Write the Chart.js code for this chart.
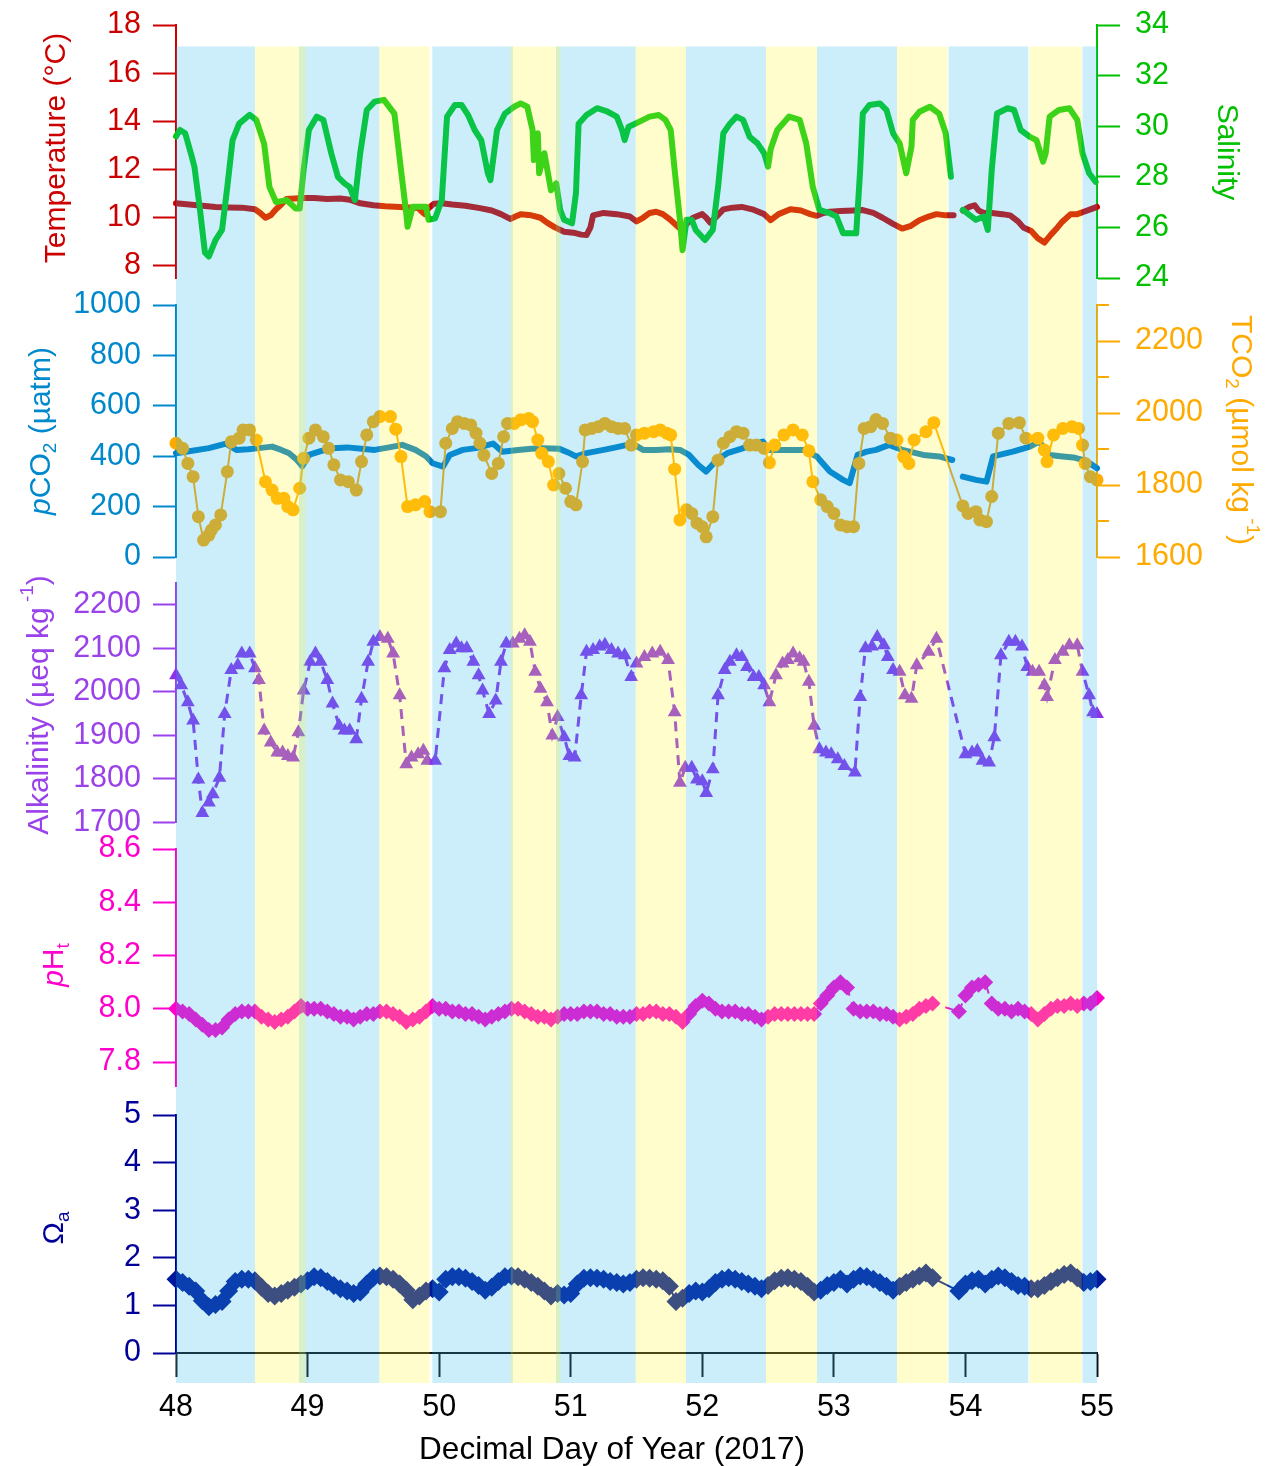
<!DOCTYPE html>
<html>
<head>
<meta charset="utf-8">
<title>Carbonate chemistry, days 48–55 (2017)</title>
<script src="https://cdn.jsdelivr.net/npm/chart.js@4.4.1/dist/chart.umd.min.js"></script>
<style>
  html, body { margin: 0; padding: 0; background: #fff; }
  #wrap { position: relative; width: 1273px; height: 1466px; overflow: hidden; }
  #wrap canvas { position: absolute; left: 0; top: 0; }
  #wrap #cTemp { top: -40px; }
</style>
</head>
<body>
<div id="wrap">
  <canvas id="cTemp" width="1273" height="400"></canvas>
  <canvas id="cCO2" width="1273" height="1466"></canvas>
  <canvas id="cAlk" width="1273" height="1466"></canvas>
  <canvas id="cPH" width="1273" height="1466"></canvas>
  <canvas id="cOmega" width="1273" height="1466"></canvas>
  <canvas id="cShade" width="1273" height="1466"></canvas>
</div>
<script>
// ---------- data ----------
// light / dark periods (decimal day)
const darkPeriods  = [[48.00,48.60],[48.935,49.545],[49.948,50.56],[50.888,51.494],[51.876,52.484],[52.872,53.48],[53.872,54.478],[54.89,55.00]];
const lightPeriods = [[48.60,48.985],[49.545,49.928],[50.544,50.923],[51.494,51.876],[52.484,52.872],[53.48,53.865],[54.486,54.884]];

// temperature (°C)
const tempDay = [48.00,48.10,48.20,48.30,48.40,48.50,48.60,48.64,48.68,48.72,48.76,48.80,48.84,48.90,48.97,49.05,49.15,49.25,49.32,49.40,49.50,49.59,49.70,49.80,49.84,49.87,49.89,49.92,49.96,50.02,50.10,50.20,50.31,50.40,50.47,50.54,50.58,50.62,50.70,50.77,50.82,50.88,50.95,51.02,51.08,51.12,51.15,51.17,51.25,51.35,51.45,51.50,51.55,51.60,51.65,51.70,51.75,51.78,51.82,51.85,51.89,51.93,52.00,52.03,52.06,52.10,52.16,52.23,52.30,52.38,52.47,52.52,52.58,52.67,52.75,52.82,52.87,52.92,52.97,53.05,53.15,53.22,53.30,53.37,53.45,53.52,53.58,53.65,53.72,53.78,53.85,53.91,53.94,53.98,54.03,54.07,54.10,54.14,54.20,54.28,54.34,54.40,54.44,54.50,54.55,54.60,54.65,54.70,54.73,54.80,54.85,54.90,54.95,55.00];
const tempVal = [10.6,10.55,10.5,10.45,10.43,10.42,10.35,10.2,10.0,10.1,10.35,10.55,10.78,10.8,10.82,10.82,10.78,10.8,10.75,10.6,10.52,10.48,10.45,10.42,10.4,10.25,10.15,10.4,10.58,10.6,10.55,10.5,10.4,10.3,10.15,9.95,10.05,10.15,10.1,10.0,9.8,9.6,9.42,9.38,9.3,9.28,9.6,10.1,10.2,10.15,10.05,9.85,10.0,10.2,10.25,10.15,9.95,9.8,9.6,9.5,9.8,10.0,10.15,10.0,9.8,10.0,10.35,10.42,10.45,10.35,10.15,9.9,10.15,10.35,10.3,10.15,10.08,10.2,10.25,10.28,10.3,10.32,10.2,10.0,9.75,9.55,9.65,9.9,10.05,10.15,10.1,10.1,null,10.3,10.45,10.52,10.3,10.2,10.2,10.15,10.1,9.85,9.6,9.45,9.15,8.97,9.3,9.6,9.8,10.15,10.15,10.25,10.35,10.45];

// salinity
const salDay = [48.00,48.03,48.07,48.12,48.14,48.18,48.22,48.25,48.30,48.35,48.39,48.43,48.48,48.56,48.61,48.67,48.71,48.76,48.84,48.91,48.94,48.97,49.01,49.07,49.12,49.18,49.23,49.28,49.32,49.36,49.40,49.45,49.51,49.58,49.66,49.71,49.75,49.76,49.80,49.90,49.92,49.97,50.02,50.06,50.12,50.17,50.22,50.27,50.32,50.37,50.39,50.44,50.50,50.57,50.62,50.67,50.71,50.72,50.75,50.76,50.80,50.85,50.89,50.92,50.95,51.01,51.04,51.06,51.12,51.20,51.27,51.35,51.39,51.41,51.44,51.49,51.55,51.60,51.67,51.72,51.76,51.79,51.83,51.85,51.88,51.92,51.95,52.02,52.08,52.12,52.16,52.21,52.26,52.31,52.36,52.42,52.47,52.50,52.52,52.57,52.66,52.74,52.79,52.84,52.89,52.97,53.02,53.07,53.17,53.20,53.22,53.27,53.35,53.40,53.45,53.50,53.55,53.59,53.60,53.65,53.73,53.80,53.85,53.89,53.94,53.98,54.08,54.14,54.17,54.20,54.24,54.32,54.37,54.42,54.49,54.54,54.59,54.61,54.64,54.71,54.79,54.85,54.89,54.94,54.99];
const salVal = [29.6,29.85,29.72,28.8,28.4,26.8,25.0,24.85,25.5,25.9,27.6,29.45,30.1,30.45,30.25,29.3,27.6,27.0,27.08,26.75,26.75,28.27,29.85,30.38,30.25,28.93,28.0,27.74,27.6,27.08,28.93,30.64,30.97,31.04,30.5,28.27,26.56,26.03,26.82,26.82,26.3,26.36,27.08,30.38,30.84,30.84,30.44,29.85,29.45,28.14,27.87,29.85,30.5,30.77,30.9,30.77,29.85,28.66,29.72,28.14,28.93,27.47,27.74,26.69,26.3,26.16,27.36,30.1,30.44,30.71,30.6,30.38,29.85,29.45,29.98,30.1,30.25,30.38,30.44,30.25,29.85,28.27,26.3,25.1,26.3,26.3,25.9,25.5,25.9,27.6,29.72,30.1,30.38,30.25,29.58,29.32,28.93,28.4,29.1,29.85,30.38,30.25,29.32,27.6,26.69,26.56,26.43,25.77,25.77,28.27,30.5,30.84,30.9,30.64,29.72,29.32,28.14,29.19,30.25,30.57,30.77,30.5,29.72,28.0,null,26.69,26.3,26.43,25.9,28.27,30.5,30.71,30.64,29.85,29.58,29.45,28.6,28.93,30.38,30.64,30.71,30.25,28.93,28.14,27.8];

// pCO2 (µatm)
const pco2Day = [48.00,48.10,48.25,48.38,48.46,48.55,48.63,48.73,48.80,48.86,48.92,48.96,49.01,49.10,49.19,49.30,49.41,49.51,49.62,49.72,49.82,49.90,49.95,50.03,50.08,50.18,50.28,50.41,50.48,50.60,50.70,50.79,50.91,50.98,51.04,51.12,51.25,51.37,51.47,51.55,51.65,51.75,51.83,51.90,51.97,52.03,52.11,52.19,52.30,52.41,52.46,52.51,52.65,52.77,52.87,52.97,53.07,53.12,53.18,53.25,53.32,53.42,53.52,53.60,53.68,53.80,53.90,53.94,53.98,54.08,54.16,54.21,54.36,54.49,54.56,54.64,54.74,54.82,54.89,54.95,55.00];
const pco2Val = [412,420,432,450,425,428,432,438,425,412,385,360,405,420,432,435,430,425,435,445,425,400,372,359,405,425,432,450,418,425,430,432,430,415,399,412,425,438,450,425,425,428,425,405,365,339,385,412,430,452,458,425,425,425,399,339,306,293,405,418,425,445,425,415,405,399,385,null,319,306,299,399,418,438,458,405,399,395,385,370,352];

// TCO2 (µmol kg-1)
const tco2Day = [48.00,48.05,48.09,48.13,48.17,48.21,48.25,48.27,48.30,48.34,48.39,48.42,48.48,48.51,48.56,48.61,48.68,48.73,48.77,48.82,48.85,48.89,48.94,48.97,49.01,49.06,49.12,49.16,49.20,49.25,49.31,49.37,49.41,49.45,49.50,49.55,49.63,49.67,49.71,49.76,49.82,49.89,49.93,50.01,50.05,50.10,50.14,50.19,50.24,50.28,50.31,50.34,50.40,50.45,50.49,50.52,50.57,50.62,50.68,50.71,50.75,50.78,50.83,50.87,50.91,50.96,51.00,51.04,51.09,51.11,51.16,51.21,51.26,51.31,51.36,51.41,51.46,51.50,51.56,51.63,51.68,51.73,51.76,51.79,51.83,51.88,51.92,51.96,52.00,52.03,52.08,52.12,52.16,52.21,52.26,52.31,52.36,52.41,52.47,52.51,52.55,52.62,52.69,52.76,52.81,52.84,52.90,52.95,53.00,53.05,53.10,53.15,53.19,53.23,53.28,53.32,53.37,53.43,53.48,53.53,53.57,53.61,53.70,53.76,53.98,54.02,54.08,54.11,54.16,54.20,54.25,54.33,54.41,54.46,54.55,54.60,54.62,54.67,54.74,54.81,54.86,54.89,54.91,54.95,55.00];
const tco2Val = [1916,1902,1860,1823,1712,1647,1661,1675,1689,1717,1837,1920,1930,1953,1953,1925,1809,1786,1763,1763,1740,1731,1791,1874,1930,1953,1934,1902,1856,1814,1809,1786,1865,1939,1976,1990,1990,1955,1879,1740,1745,1754,1726,1726,1916,1957,1976,1971,1967,1944,1916,1883,1832,1860,1934,1971,1971,1981,1985,1976,1925,1888,1865,1800,1832,1791,1754,1745,1865,1953,1957,1962,1971,1962,1957,1957,1911,1939,1944,1948,1953,1944,1939,1844,1703,1731,1721,1694,1684,1656,1712,1869,1916,1934,1948,1944,1911,1911,1902,1862,1911,1939,1953,1939,1895,1809,1759,1740,1721,1689,1684,1684,1860,1957,1962,1982,1971,1930,1925,1879,1860,1925,1948,1973,1742,1721,1726,1703,1698,1768,1944,1971,1973,1930,1930,1897,1865,1939,1957,1962,1957,1911,1860,1823,1814];

// total alkalinity (µeq kg-1)
const alkDay = [48.00,48.04,48.09,48.13,48.17,48.20,48.25,48.28,48.33,48.37,48.42,48.47,48.50,48.56,48.60,48.63,48.67,48.72,48.77,48.81,48.85,48.89,48.93,48.97,49.02,49.06,49.10,49.15,49.19,49.24,49.28,49.32,49.37,49.41,49.46,49.50,49.55,49.61,49.65,49.70,49.75,49.79,49.84,49.88,49.91,49.97,50.04,50.08,50.13,50.17,50.21,50.26,50.30,50.33,50.38,50.43,50.47,50.51,50.56,50.61,50.65,50.69,50.73,50.77,50.82,50.86,50.90,50.95,50.99,51.03,51.08,51.12,51.17,51.22,51.26,51.31,51.36,51.41,51.46,51.50,51.56,51.62,51.68,51.74,51.79,51.83,51.87,51.92,51.96,52.00,52.03,52.08,52.12,52.17,52.21,52.26,52.30,52.34,52.39,52.43,52.47,52.51,52.56,52.61,52.65,52.69,52.74,52.77,52.81,52.85,52.89,52.94,52.98,53.03,53.08,53.16,53.20,53.24,53.29,53.33,53.38,53.41,53.45,53.50,53.54,53.59,53.63,53.72,53.78,54.00,54.05,54.09,54.13,54.18,54.22,54.27,54.33,54.38,54.43,54.47,54.51,54.56,54.60,54.62,54.68,54.74,54.79,54.85,54.89,54.94,54.97,55.00];
const alkVal = [2038,2015,1976,1934,1799,1722,1746,1765,1803,1949,2050,2061,2088,2088,2054,2027,1911,1884,1861,1861,1853,1849,1907,2003,2069,2088,2069,2027,1973,1922,1911,1911,1891,1984,2069,2115,2126,2122,2088,1992,1834,1849,1857,1865,1842,1842,2054,2096,2111,2100,2100,2069,2038,2003,1949,1980,2069,2111,2111,2122,2130,2115,2046,2007,1976,1900,1942,1896,1853,1849,1992,2092,2096,2104,2108,2096,2088,2084,2034,2065,2080,2088,2092,2073,1953,1791,1826,1826,1799,1795,1768,1822,1992,2050,2069,2084,2080,2057,2034,2034,2015,1976,2038,2065,2073,2088,2077,2069,2023,1922,1868,1861,1857,1845,1830,1815,1988,2100,2104,2126,2107,2080,2050,2046,1992,1984,2061,2092,2122,1857,1861,1865,1842,1838,1896,2084,2115,2115,2104,2057,2046,2046,2015,1988,2073,2092,2107,2107,2046,1992,1953,1949];

// sampling times shared by the pH and aragonite saturation series
const calcDay = [48.00,48.05,48.10,48.15,48.20,48.25,48.30,48.35,48.40,48.45,48.50,48.55,48.60,48.65,48.70,48.75,48.80,48.85,48.90,48.95,
  49.00,49.05,49.10,49.15,49.20,49.25,49.30,49.35,49.40,49.45,49.50,49.55,49.60,49.65,49.70,49.75,49.80,49.85,49.90,49.95,
  50.00,50.05,50.10,50.15,50.20,50.25,50.30,50.35,50.40,50.45,50.50,50.55,50.60,50.65,50.70,50.75,50.80,50.85,50.90,50.95,
  51.00,51.05,51.10,51.15,51.20,51.25,51.30,51.35,51.40,51.45,51.50,51.55,51.60,51.65,51.70,51.75,51.80,51.85,51.90,51.95,
  52.00,52.05,52.10,52.15,52.20,52.25,52.30,52.35,52.40,52.45,52.50,52.55,52.60,52.65,52.70,52.75,52.80,52.85,52.90,52.95,
  53.00,53.05,53.10,53.15,53.20,53.25,53.30,53.35,53.40,53.45,53.50,53.55,53.60,53.65,53.70,53.75,
  53.95,
  54.00,54.05,54.10,54.15,54.20,54.25,54.30,54.35,54.40,54.45,54.50,54.55,54.60,54.65,54.70,54.75,54.80,54.85,54.90,54.95,55.00];

// pH (total scale)
const phVal = [8.00,7.99,7.98,7.96,7.94,7.92,7.92,7.93,7.96,7.98,7.99,7.99,7.99,7.97,7.96,7.95,7.96,7.97,7.99,8.01,
  8.00,8.00,8.00,7.99,7.98,7.97,7.97,7.96,7.97,7.98,7.98,7.99,7.99,7.98,7.97,7.95,7.96,7.97,7.99,8.01,
  8.00,8.00,7.99,7.99,7.98,7.98,7.97,7.96,7.97,7.98,7.99,8.00,8.00,7.99,7.98,7.97,7.97,7.96,7.97,7.98,
  7.98,7.98,7.99,7.99,7.99,7.98,7.98,7.97,7.97,7.97,7.98,7.98,7.99,7.99,7.98,7.98,7.97,7.95,7.98,8.01,
  8.03,8.02,8.00,7.99,7.99,7.99,7.98,7.98,7.97,7.96,7.97,7.98,7.98,7.98,7.98,7.98,7.98,7.98,8.02,8.05,
  8.08,8.10,8.08,8.00,7.99,7.99,7.99,7.98,7.98,7.97,7.96,7.97,7.98,8.00,8.01,8.02,
  7.99,
  8.05,8.08,8.09,8.10,8.02,8.00,8.00,7.99,8.00,7.99,7.98,7.96,7.98,8.00,8.01,8.01,8.02,8.01,8.02,8.02,8.04];

// aragonite saturation state
const omegaVal = [1.55,1.48,1.40,1.30,1.10,0.97,1.02,1.08,1.30,1.50,1.55,1.55,1.52,1.38,1.25,1.20,1.25,1.32,1.38,1.45,
  1.52,1.60,1.58,1.50,1.42,1.35,1.30,1.25,1.28,1.45,1.58,1.62,1.60,1.55,1.45,1.32,1.12,1.20,1.30,1.35,
  1.28,1.55,1.60,1.60,1.57,1.50,1.42,1.32,1.38,1.50,1.60,1.62,1.60,1.55,1.48,1.40,1.30,1.20,1.25,1.22,
  1.25,1.45,1.57,1.58,1.57,1.55,1.50,1.48,1.45,1.48,1.55,1.58,1.57,1.55,1.52,1.40,1.08,1.15,1.25,1.30,
  1.28,1.35,1.48,1.55,1.58,1.55,1.50,1.45,1.40,1.35,1.42,1.52,1.57,1.58,1.55,1.50,1.40,1.28,1.32,1.42,
  1.48,1.55,1.45,1.55,1.62,1.60,1.55,1.48,1.40,1.32,1.40,1.48,1.55,1.62,1.68,1.58,
  1.30,
  1.45,1.52,1.55,1.45,1.55,1.62,1.58,1.50,1.42,1.40,1.35,1.35,1.42,1.50,1.58,1.65,1.68,1.58,1.48,1.50,1.55];

// axis tick positions
const dayTicks = [48, 49, 50, 51, 52, 53, 54, 55];
const tco2MinorTicks = [1700, 1900, 2100, 2300];

// ---------- styling ----------
const W = 1273, H = 1466;
const PLOT_LEFT = 176, PLOT_RIGHT = 1097;
const TOP_SHIFT = 40;            // the top panel's canvas starts above the page edge
const TOP_CANVAS_H = 400;
const FONT = "'Liberation Sans', Arial, Helvetica, sans-serif";
const TICK_SIZE = 30.5;
const TITLE_SIZE = 30;

const C = {
  temp: '#cc0000', sal: '#00c814', salAxis: '#00c000',
  pco2: 'rgb(0,125,200)', pco2Axis: '#0088cc',
  tco2: '#ffaa00', alk: 'rgb(140,50,235)', alkAxis: '#9a42ea',
  ph: '#ff00cc', omega: 'rgb(0,25,155)', omegaAxis: '#000099',
  dark: 'rgba(38,184,234,0.24)', light: 'rgba(255,247,42,0.24)'
};

Chart.defaults.font.family = FONT;

const pts = (xs, ys) => xs.map((x, i) => ({ x, y: ys[i] }));

function hiddenX() {
  return { type: 'linear', min: 48, max: 55, display: false };
}

function yAxis(pos, min, max, step, color, fmt) {
  return {
    type: 'linear', position: pos, min, max,
    afterFit: s => { s.width = pos === 'left' ? PLOT_LEFT : W - PLOT_RIGHT; },
    border: { display: true, color, width: 2 },
    grid: { display: true, drawOnChartArea: false, drawTicks: true, tickLength: 23, tickWidth: 2, tickColor: color },
    ticks: {
      stepSize: step, includeBounds: false, color, autoSkip: false, maxRotation: 0,
      font: { family: FONT, size: TICK_SIZE }, padding: pos === 'left' ? 12 : 15,
      callback: fmt || (v => String(v))
    }
  };
}

function options(pad, scales) {
  return {
    responsive: false, animation: false, events: [],
    layout: { padding: pad },
    plugins: { legend: { display: false }, tooltip: { enabled: false } },
    scales
  };
}

// rotated axis titles with italics, subscripts and superscripts
function drawRich(ctx, parts, cx, cy, rot, size, color) {
  ctx.save();
  ctx.translate(cx, cy);
  ctx.rotate(rot);
  ctx.fillStyle = color;
  ctx.textBaseline = 'middle';
  ctx.textAlign = 'left';
  const segs = parts.map(p => {
    const s = (p.sub || p.sup) ? Math.round(size * 0.62) : size;
    const font = (p.it ? 'italic ' : '') + s + 'px ' + FONT;
    ctx.font = font;
    return { t: p.t, font, w: ctx.measureText(p.t).width, dy: p.sub ? size * 0.3 : p.sup ? -size * 0.42 : 0 };
  });
  let x = -segs.reduce((a, s) => a + s.w, 0) / 2;
  segs.forEach(s => { ctx.font = s.font; ctx.fillText(s.t, x, s.dy); x += s.w; });
  ctx.restore();
}

// dy converts page coordinates into the canvas' own coordinates
const titles = (items, dy = 0) => ({
  id: 'axisTitles',
  afterDraw(chart) {
    items.forEach(it => drawRich(chart.ctx, it.parts, it.x, it.y + dy, it.rot, it.size || TITLE_SIZE, it.color));
  }
});

const minorTicks = (axisId, values, len, color) => ({
  id: 'minorTicks',
  afterDraw(chart) {
    const s = chart.scales[axisId], ctx = chart.ctx;
    ctx.save();
    ctx.strokeStyle = color; ctx.lineWidth = 2;
    values.forEach(v => {
      const y = Math.round(s.getPixelForValue(v));
      ctx.beginPath(); ctx.moveTo(s.left, y); ctx.lineTo(s.left + len, y); ctx.stroke();
    });
    ctx.restore();
  }
});

const UP = -Math.PI / 2, DOWN = Math.PI / 2;

// ---------- panel 1: temperature & salinity ----------
new Chart(document.getElementById('cTemp'), {
  type: 'line',
  data: { datasets: [
    { data: pts(salDay, salVal), yAxisID: 'ySal', borderColor: C.sal, borderWidth: 6, pointRadius: 0,
      tension: 0, clip: false, order: 0, borderJoinStyle: 'round', borderCapStyle: 'round' },
    { data: pts(tempDay, tempVal), yAxisID: 'yT', borderColor: C.temp, borderWidth: 6, pointRadius: 0,
      tension: 0, clip: false, order: 1, borderJoinStyle: 'round', borderCapStyle: 'round' }
  ]},
  options: options({ top: 25 + TOP_SHIFT, bottom: TOP_CANVAS_H - (278 + TOP_SHIFT), left: 0, right: 0 }, {
    x: hiddenX(),
    yT: yAxis('left', 7.5, 18, 2, C.temp),
    ySal: yAxis('right', 24, 34, 2, C.salAxis)
  }),
  plugins: [titles([
    { parts: [{ t: 'Temperature (°C)' }], x: 57, y: 148, rot: UP, color: C.temp },
    { parts: [{ t: 'Salinity' }], x: 1226, y: 152, rot: DOWN, color: C.salAxis }
  ], TOP_SHIFT)]
});

// ---------- panel 2: pCO2 & TCO2 ----------
new Chart(document.getElementById('cCO2'), {
  type: 'line',
  data: { datasets: [
    { data: pts(tco2Day, tco2Val), yAxisID: 'yTC', borderColor: C.tco2, borderWidth: 2, tension: 0,
      pointRadius: 6.5, pointBackgroundColor: C.tco2, pointBorderWidth: 0, pointStyle: 'circle', clip: false, order: 0 },
    { data: pts(pco2Day, pco2Val), yAxisID: 'yP', borderColor: C.pco2, borderWidth: 6, pointRadius: 0,
      tension: 0, clip: false, order: 1, borderJoinStyle: 'round', borderCapStyle: 'round' }
  ]},
  options: options({ top: 305, bottom: H - 557, left: 0, right: 0 }, {
    x: hiddenX(),
    yP: yAxis('left', 0, 1000, 200, C.pco2Axis),
    yTC: yAxis('right', 1600, 2300, 200, C.tco2)
  }),
  plugins: [
    minorTicks('yTC', tco2MinorTicks, 12, C.tco2),
    titles([
      { parts: [{ t: 'p', it: true }, { t: 'CO' }, { t: '2', sub: true }, { t: ' (µatm)' }], x: 42, y: 431, rot: UP, color: C.pco2Axis },
      { parts: [{ t: 'TCO' }, { t: '2', sub: true }, { t: ' (µmol kg' }, { t: ' -1', sup: true }, { t: ')' }], x: 1240, y: 430, rot: DOWN, color: C.tco2 }
    ])
  ]
});

// ---------- panel 3: alkalinity ----------
new Chart(document.getElementById('cAlk'), {
  type: 'line',
  data: { datasets: [
    { data: pts(alkDay, alkVal), yAxisID: 'yA', borderColor: C.alk, borderWidth: 3, borderDash: [10, 7], tension: 0,
      pointRadius: 8, pointStyle: 'triangle', pointBackgroundColor: C.alk, pointBorderWidth: 0, clip: false }
  ]},
  options: options({ top: 583, bottom: H - 822.5, left: 0, right: W - PLOT_RIGHT }, {
    x: hiddenX(),
    yA: yAxis('left', 1700, 2250, 100, C.alkAxis)
  }),
  plugins: [titles([
    { parts: [{ t: 'Alkalinity (µeq kg' }, { t: ' -1', sup: true }, { t: ')' }], x: 40, y: 705, rot: UP, color: C.alkAxis }
  ])]
});

// ---------- panel 4: pH ----------
new Chart(document.getElementById('cPH'), {
  type: 'line',
  data: { datasets: [
    { data: pts(calcDay, phVal), yAxisID: 'yPH', borderColor: C.ph, borderWidth: 2, borderDash: [8, 7], tension: 0,
      pointRadius: 8, pointStyle: 'rectRot', pointBackgroundColor: C.ph, pointBorderWidth: 0, clip: false }
  ]},
  options: options({ top: 849, bottom: H - 1086, left: 0, right: W - PLOT_RIGHT }, {
    x: hiddenX(),
    yPH: yAxis('left', 7.71, 8.6, 0.2, C.ph, v => v.toFixed(1))
  }),
  plugins: [titles([
    { parts: [{ t: 'p', it: true }, { t: 'H' }, { t: 't', sub: true }], x: 55, y: 965, rot: UP, color: C.ph }
  ])]
});

// ---------- panel 5: aragonite saturation, with the shared day axis ----------
new Chart(document.getElementById('cOmega'), {
  type: 'line',
  data: { datasets: [
    { data: pts(calcDay, omegaVal), yAxisID: 'yO', borderColor: C.omega, borderWidth: 2, tension: 0,
      pointRadius: 9.5, pointStyle: 'rectRot', pointBackgroundColor: C.omega, pointBorderWidth: 0, clip: false }
  ]},
  options: options({ top: 1115, bottom: 0, left: 0, right: W - PLOT_RIGHT }, {
    x: {
      type: 'linear', position: 'bottom', min: 48, max: 55,
      afterFit: s => { s.height = H - 1353; },
      afterBuildTicks: s => { s.ticks = dayTicks.map(v => ({ value: v })); },
      border: { display: true, color: '#111', width: 2 },
      grid: { display: true, drawOnChartArea: false, tickLength: 24, tickWidth: 2, tickColor: '#111' },
      ticks: { color: '#000', font: { family: FONT, size: TICK_SIZE }, padding: 12, maxRotation: 0, autoSkip: false,
               callback: v => String(v) }
    },
    yO: yAxis('left', 0, 5, 1, C.omegaAxis)
  }),
  plugins: [titles([
    { parts: [{ t: 'Ω' }, { t: 'a', sub: true }], x: 55, y: 1228, rot: UP, color: C.omegaAxis },
    { parts: [{ t: 'Decimal Day of Year (2017)' }], x: 612, y: 1450, rot: 0, size: 31.5, color: '#000' }
  ])]
});

// ---------- translucent light/dark shading over all panels ----------
new Chart(document.getElementById('cShade'), {
  type: 'line',
  data: { datasets: [] },
  options: options({ top: 46.5, bottom: H - 1383, left: PLOT_LEFT, right: W - PLOT_RIGHT }, {
    x: hiddenX(),
    y: { type: 'linear', min: 0, max: 1, display: false }
  }),
  plugins: [{
    id: 'periods',
    afterDraw(chart) {
      const xs = chart.scales.x, a = chart.chartArea, ctx = chart.ctx;
      const fill = (list, color) => {
        ctx.fillStyle = color;
        list.forEach(([s, e]) => {
          const x0 = xs.getPixelForValue(s), x1 = xs.getPixelForValue(e);
          ctx.fillRect(x0, a.top, x1 - x0, a.bottom - a.top);
        });
      };
      fill(darkPeriods, C.dark);
      fill(lightPeriods, C.light);
    }
  }]
});
</script>
</body>
</html>
